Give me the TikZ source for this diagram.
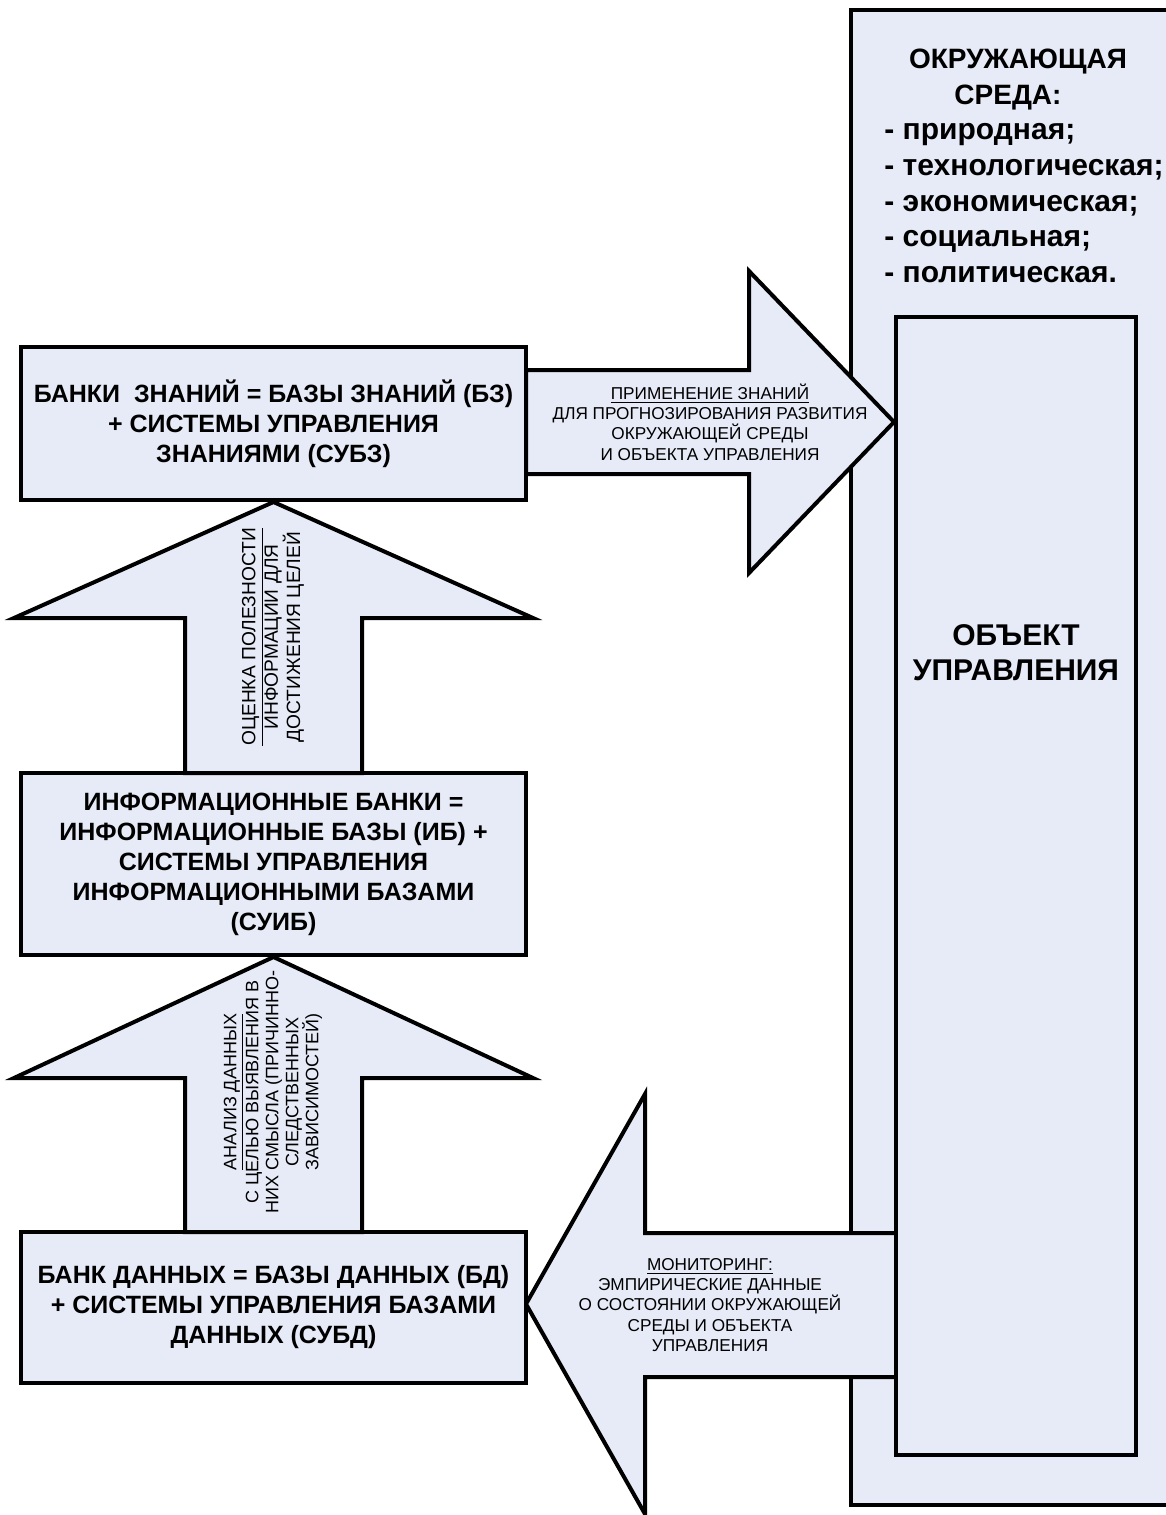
\documentclass[tikz,border=0pt]{standalone}
\usepackage{fontspec}
\setmainfont{Liberation Sans}
\definecolor{fillc}{RGB}{231,235,247}
\begin{document}
\begin{tikzpicture}[x=0.5pt,y=-0.5pt,line join=miter,
  shp/.style={draw=black,fill=fillc,line width=2pt},
  boxnode/.style={shp,inner sep=0pt,align=center,font=\fontsize{12.5}{15}\selectfont\bfseries},
  arrtxt/.style={align=center,font=\fontsize{8.6}{10.2}\selectfont},
  vtxtA/.style={align=center,rotate=90,font=\fontsize{9.6}{11.2}\selectfont},
  vtxtB/.style={align=center,rotate=90,font=\fontsize{9}{10}\selectfont},
  envtxt/.style={font=\fontsize{14}{17}\selectfont\bfseries,inner sep=0pt},
  envlist/.style={font=\fontsize{15}{17}\selectfont\bfseries,inner sep=0pt}]
\path[use as bounding box] (0,0) rectangle (1166,1515);
\begin{scope}
\clip (0,0) rectangle (1166,1515);
% environment
\path[shp] (851,10) rectangle (1180,1505);
% right arrow (knowledge application)
\path[shp] (526,370) -- (749,370) -- (749,271) -- (894,422) -- (749,573) -- (749,474) -- (526,474) -- cycle;
% left arrow (monitoring)
\path[shp] (896,1233) -- (645,1233) -- (645,1094) -- (526,1304) -- (645,1514) -- (645,1377) -- (896,1377) -- cycle;
% object
\node[shp,minimum width=120pt,minimum height=569pt,inner sep=0pt] (obj) at (1016,886) {};
% boxes
\node[boxnode,minimum width=252.5pt,minimum height=76.5pt] (b1) at (273.5,423.5) {};
\node[boxnode,minimum width=252.5pt,minimum height=91pt] (b2) at (273.5,864) {};
\node[boxnode,minimum width=252.5pt,minimum height=75.5pt] (b3) at (273.5,1307.5) {};
% up arrows
\path[shp] (b1.south) -- (533,618) -- (362,618) -- (362,773) -- (185,773) -- (185,618) -- (14,618) -- cycle;
\path[shp] (b2.south) -- (533,1078) -- (362,1078) -- (362,1232) -- (185,1232) -- (185,1078) -- (14,1078) -- cycle;
\end{scope}
% texts
\node[boxnode,draw=none,fill=none] (t1) at (b1.center) {БАНКИ\ \ ЗНАНИЙ = БАЗЫ ЗНАНИЙ (БЗ)\\+ СИСТЕМЫ УПРАВЛЕНИЯ\\ЗНАНИЯМИ (СУБЗ)};
\node[boxnode,draw=none,fill=none] (t2) at (b2.center) {ИНФОРМАЦИОННЫЕ БАНКИ =\\ИНФОРМАЦИОННЫЕ БАЗЫ (ИБ) +\\СИСТЕМЫ УПРАВЛЕНИЯ\\ИНФОРМАЦИОННЫМИ БАЗАМИ\\(СУИБ)};
\node[boxnode,draw=none,fill=none] (t3) at (b3.center) {БАНК ДАННЫХ = БАЗЫ ДАННЫХ (БД)\\+ СИСТЕМЫ УПРАВЛЕНИЯ БАЗАМИ\\ДАННЫХ (СУБД)};
\node[arrtxt] (ta) at (710,422) {\underline{ПРИМЕНЕНИЕ ЗНАНИЙ}\\ДЛЯ ПРОГНОЗИРОВАНИЯ РАЗВИТИЯ\\ОКРУЖАЮЩЕЙ СРЕДЫ\\И ОБЪЕКТА УПРАВЛЕНИЯ};
\node[arrtxt] (tm) at (710,1305) {\underline{МОНИТОРИНГ:}\\ЭМПИРИЧЕСКИЕ ДАННЫЕ\\О СОСТОЯНИИ ОКРУЖАЮЩЕЙ\\СРЕДЫ И ОБЪЕКТА\\УПРАВЛЕНИЯ};
\node[vtxtA] (tv1) at (273,637) {\underline{ОЦЕНКА ПОЛЕЗНОСТИ}\\ИНФОРМАЦИИ ДЛЯ\\ДОСТИЖЕНИЯ ЦЕЛЕЙ};
\node[vtxtB] (tv2) at (273,1092) {\underline{АНАЛИЗ ДАННЫХ}\\С ЦЕЛЬЮ ВЫЯВЛЕНИЯ В\\НИХ СМЫСЛА (ПРИЧИННО-\\СЛЕДСТВЕННЫХ\\ЗАВИСИМОСТЕЙ)};
\node[envtxt,anchor=base] (e1) at (1018,68) {ОКРУЖАЮЩАЯ};
\node[envtxt,anchor=base] (e2) at (1008,104) {СРЕДА:};
\node[envlist,anchor=base west] (e3) at (884,139.5) {- природная;};
\node[envlist,anchor=base west] (e4) at (884,175) {- технологическая;};
\node[envlist,anchor=base west] (e5) at (884,211) {- экономическая;};
\node[envlist,anchor=base west] (e6) at (884,246.5) {- социальная;};
\node[envlist,anchor=base west] (e7) at (884,282) {- политическая.};
\node[envlist,anchor=base] (o1) at (1016,645) {ОБЪЕКТ};
\node[envlist,anchor=base] (o2) at (1016,680) {УПРАВЛЕНИЯ};
\end{tikzpicture}
\end{document}
